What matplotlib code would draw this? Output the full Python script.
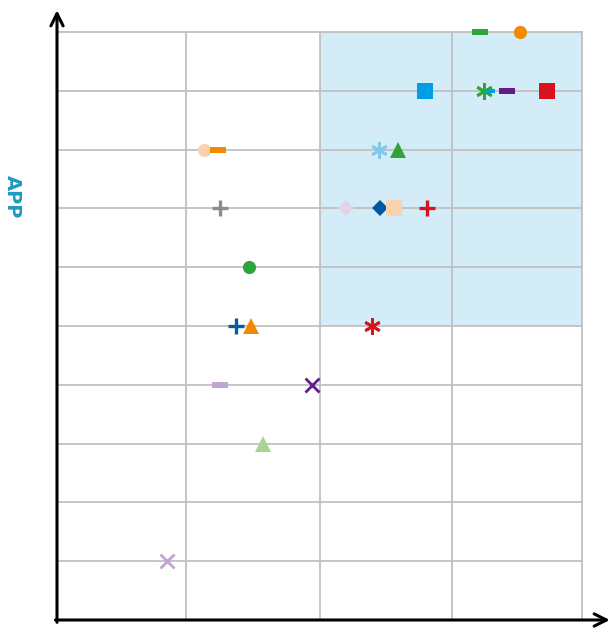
import numpy as np
import matplotlib.pyplot as plt

# (x, y, marker kind, colour)
xs = [3.22, 3.53, 2.80, 3.25, 3.30, 3.43, 3.73,
      1.12, 1.23, 2.45, 2.60,
      1.24, 2.20, 2.46, 2.57, 2.82,
      1.46,
      1.36, 1.48, 2.40,
      1.24, 1.94,
      1.57,
      0.84]
ys = [10, 10, 9, 9, 9, 9, 9,
      8, 8, 8, 8,
      7, 7, 7, 7, 7,
      6,
      5, 5, 5,
      4, 4,
      3,
      1]
kinds = ["dash", "circle", "square", "star", "smalldash", "dash", "square",
         "circle", "dash", "star", "tri",
         "plus", "diamond", "diamond", "square", "plus",
         "circle",
         "plus", "tri", "star",
         "dash", "x",
         "tri",
         "x"]
colors = ["#2ea43c", "#f08a00", "#009fe3", "#2ea43c", "#009fe3", "#641c8c", "#d7141e",
          "#f9d2b0", "#f08a00", "#7fc9ef", "#2ea43c",
          "#8c8c8c", "#e0d3e6", "#0057a6", "#f9d2b0", "#d7141e",
          "#2ea43c",
          "#0a5aa8", "#f08a00", "#d7141e",
          "#c2a3d6", "#641c8c",
          "#a9d591",
          "#c2a3d6"]

x_grid = [0, 0.983, 2.0, 3.01, 4]
y_grid = np.arange(0, 11)
shade_x = (2, 4)
shade_y = (5, 10)

dash = [(-1, -0.32), (1, -0.32), (1, 0.32), (-1, 0.32)]
small = [(-1, -0.5), (1, -0.5), (1, 0.5), (-1, 0.5)]
styles = {
    "dash": dict(marker=dash, ms=11.5, mew=0),
    "smalldash": dict(marker=small, ms=7, mew=0),
    "circle": dict(marker="o", ms=9.5, mew=0),
    "square": dict(marker="s", ms=12, mew=0),
    "tri": dict(marker="^", ms=12, mew=0),
    "diamond": dict(marker="D", ms=8.5, mew=0),
    "plus": dict(marker="+", ms=12, mew=2.4),
    "x": dict(marker="x", ms=10, mew=2),
    "star": dict(marker=(6, 2, 0), ms=12, mew=2),
}

fig = plt.figure(figsize=(6.12, 6.30), dpi=100)
ax = fig.add_axes([57 / 612, 10 / 630, 525 / 612, 588 / 630])
ax.set_xlim(0, 4)
ax.set_ylim(0, 10)

ax.fill_between(shade_x, shade_y[0], shade_y[1], color="#d4ebf8", lw=0, zorder=0)
for gx in x_grid[1:]:
    ax.axvline(gx, color="#c0c0c0", lw=1.3, zorder=1, clip_on=False)
for gy in y_grid[1:]:
    ax.axhline(gy, color="#c0c0c0", lw=1.3, zorder=1, clip_on=False)

for x, y, k, c in zip(xs, ys, kinds, colors):
    ax.plot(x, y, ls="none", color=c, mec=c, clip_on=False, zorder=3, **styles[k])

for s in ax.spines.values():
    s.set_visible(False)
ax.set_xticks([])
ax.set_yticks([])

arrow = dict(arrowstyle="->", lw=2.2, color="black", mutation_scale=22,
             shrinkA=0, shrinkB=0)
ax.annotate("", xy=(0, 1.037), xytext=(0, -0.004), xycoords="axes fraction",
            arrowprops=arrow, annotation_clip=False)
ax.annotate("", xy=(1.053, 0), xytext=(-0.003, 0), xycoords="axes fraction",
            arrowprops=arrow, annotation_clip=False)

fig.text(12 / 612, 1 - 197 / 630, "APP", rotation=-90, color="#1b9ac2",
         fontsize=14, fontweight="bold", ha="center", va="center")

fig.savefig("out.png", dpi=100)
